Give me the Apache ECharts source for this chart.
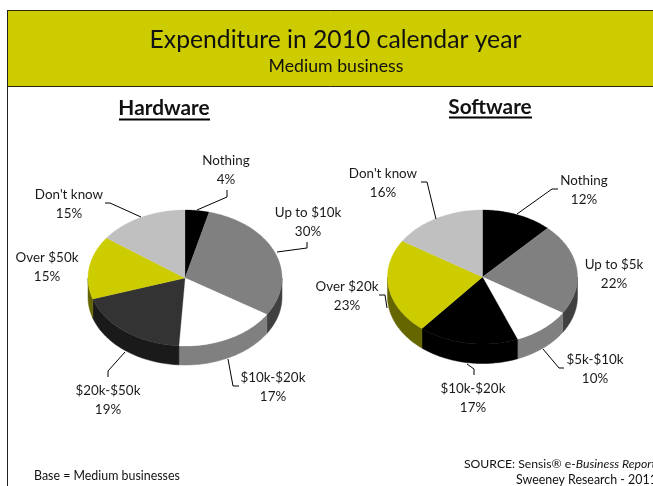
<!DOCTYPE html>
<html><head><meta charset="utf-8">
<style>html,body{margin:0;padding:0;background:#fff;overflow:hidden}#c{width:653px;height:486px}</style>
<script src="https://cdn.jsdelivr.net/npm/echarts@6/dist/echarts.min.js"></script>
</head><body><div id="c"></div>
<script>
const hardwareCategories = ['Nothing','Up to $10k','$10k-$20k','$20k-$50k','Over $50k',"Don't know"];
const hardwareValues = [4,30,17,19,15,15];
const softwareCategories = ['Nothing','Up to $5k','$5k-$10k','$10k-$20k','Over $20k',"Don't know"];
const softwareValues = [12,22,10,17,23,16];

const FONT = 'Lato';
const hardwareColors = ['#000000','#808080','#ffffff','#333333','#cccc00','#c0c0c0'];
const softwareColors = ['#000000','#808080','#ffffff','#000000','#cccc00','#c0c0c0'];
const hardwareGeom = {cx:185,cy:278,rx:97,ry:68,depth:19};
const softwareGeom = {cx:482.5,cy:277,rx:95,ry:67,depth:19.5};
// label centres [x, first line y] and leader lines, in page pixels
const hardwareLabels = [[226,161],[308,213],[273,378],[108,391],[47,258],[69,195]];
const softwareLabels = [[584,181],[614,265],[595,360],[473,389],[347,287],[383,174]];
const hardwareLeaders = [[[197,210],[227,197],[227,190]],[[277,252],[307,248],[307,242]],[[228,359],[233,386],[239,386]],[[125,352],[108,371],[108,377]],null,[[141,217],[110,203],[105,203]]];
const softwareLeaders = [[[517,214],[552,189],[558,189]],null,[[543,349],[559,368],[564,368]],[[467,364],[474,369],[474,375]],[[387,308],[385,295],[379,295]],[[436,219],[427,182],[421,182]]];

function shade(hex,f){
  const n=parseInt(hex.slice(1),16);
  const p=s=>Math.round(((n>>s)&255)*f);
  return 'rgb('+p(16)+','+p(8)+','+p(0)+')';
}
function pieSeries(cats,vals,colors,g,labels,leaders){
  const total=vals.reduce((a,b)=>a+b,0);
  const starts=[];let acc=0;vals.forEach(v=>{starts.push(acc);acc+=v;});
  const pt=(a,dy)=>[g.cx+g.rx*Math.sin(a),g.cy-g.ry*Math.cos(a)+(dy||0)];
  const arc=(a0,a1,dy)=>{
    const n=Math.max(2,Math.ceil((a1-a0)/0.02)),o=[];
    for(let k=0;k<=n;k++)o.push(pt(a0+(a1-a0)*k/n,dy));
    return o;
  };
  return {
    type:'custom',coordinateSystem:'none',silent:true,
    data:vals.map((v,i)=>[v,i]),
    renderItem(params,api){
      const v=api.value(0),i=api.value(1);
      const a0=starts[i]/total*2*Math.PI,a1=(starts[i]+v)/total*2*Math.PI;
      const kids=[];
      const s0=Math.max(a0,Math.PI/2),s1=Math.min(a1,Math.PI*1.5);
      if(s1>s0){
        kids.push({type:'polygon',z2:1,shape:{points:arc(s0,s1,0).concat(arc(s0,s1,g.depth).reverse())},
          style:{fill:shade(colors[i],0.5),stroke:shade(colors[i],0.5),lineWidth:0.5}});
      }
      kids.push({type:'polygon',z2:2,shape:{points:[[g.cx,g.cy]].concat(arc(a0,a1,0))},
        style:{fill:colors[i],stroke:colors[i],lineWidth:0.3}});
      if(leaders[i])kids.push({type:'polyline',z2:3,shape:{points:leaders[i]},style:{fill:'none',stroke:'#000',lineWidth:1}});
      const common={fill:'#1a1a1a',font:'13.4px '+FONT,textAlign:'center',textVerticalAlign:'middle'};
      kids.push({type:'text',z2:4,style:Object.assign({},common,{text:cats[i],x:labels[i][0],y:labels[i][1]})});
      kids.push({type:'text',z2:4,style:Object.assign({},common,{text:v+'%',x:labels[i][0],y:labels[i][1]+19})});
      return {type:'group',children:kids};
    }
  };
}
const chart=echarts.init(document.getElementById('c'),null,{renderer:'canvas'});
const txt=(text,x,y,font,align,extra)=>({type:'text',silent:true,style:Object.assign({text,x,y,font:font+' '+FONT,fill:'#111',textAlign:align||'center',textVerticalAlign:'middle'},extra||{})});
chart.setOption({
  animation:false,backgroundColor:'#fff',
  graphic:[
    {type:'rect',silent:true,shape:{x:7.5,y:10.5,width:660,height:76},style:{fill:'#cccc00',stroke:'#2a2a00',lineWidth:1}},
    {type:'line',silent:true,shape:{x1:7.5,y1:10,x2:7.5,y2:486},style:{stroke:'#222',lineWidth:1}},
    txt('Expenditure in 2010 calendar year',335.5,40.5,'24.7px'),
    txt('Medium business',336,66.5,'17.7px'),
    txt('Hardware',164,108.5,'bold 20.8px'),
    {type:'line',silent:true,shape:{x1:119,y1:119.5,x2:210,y2:119.5},style:{stroke:'#000',lineWidth:2}},
    txt('Software',490,107.5,'bold 20.8px'),
    {type:'line',silent:true,shape:{x1:449,y1:117.5,x2:532,y2:117.5},style:{stroke:'#000',lineWidth:2}},
    txt('Base = Medium businesses',34,475.5,'12.4px','left'),
    {type:'text',silent:true,style:{x:464,y:464,textAlign:'left',textVerticalAlign:'middle',
      rich:{n:{font:'12.2px '+FONT,fill:'#111'},i:{font:'italic 12.2px '+FONT,fill:'#111'}},
      text:'{n|SOURCE: Sensis® e-}{i|Business Report}'}},
    txt('Sweeney Research - 2011',516,480,'12.4px','left')
  ],
  series:[
    pieSeries(hardwareCategories,hardwareValues,hardwareColors,hardwareGeom,hardwareLabels,hardwareLeaders),
    pieSeries(softwareCategories,softwareValues,softwareColors,softwareGeom,softwareLabels,softwareLeaders)
  ]
});
</script></body></html>
